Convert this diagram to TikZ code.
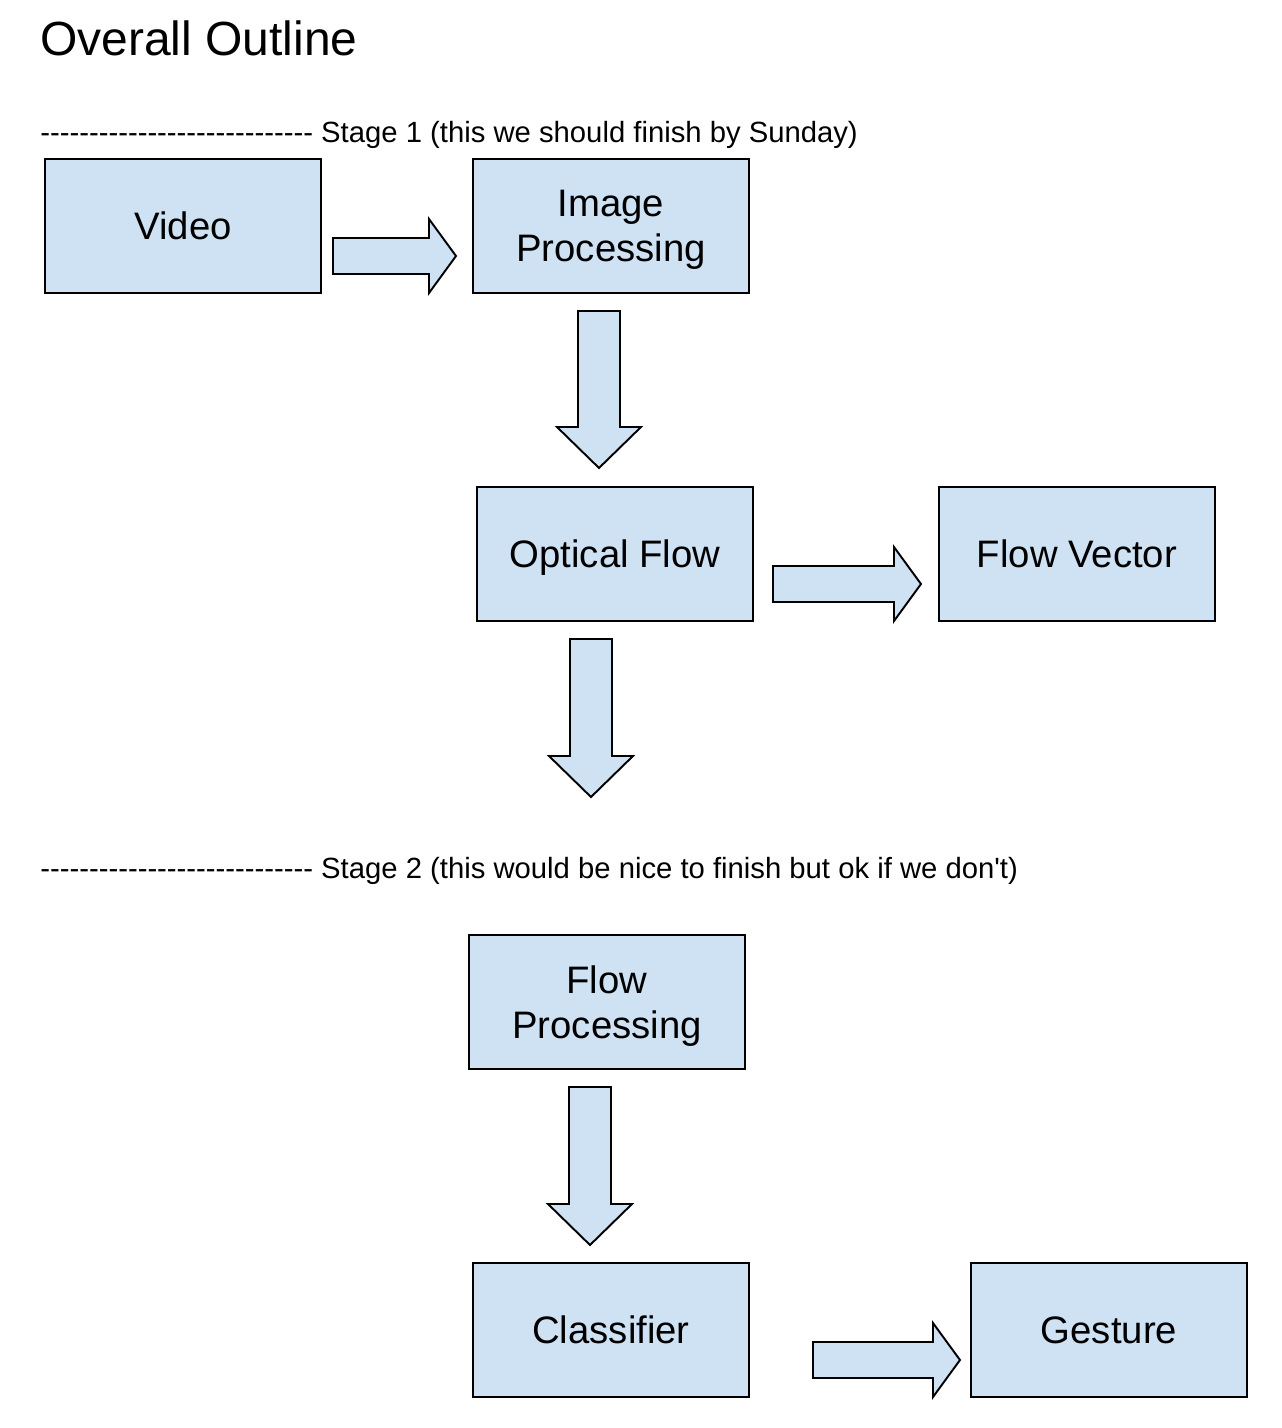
\documentclass[tikz,border=0pt]{standalone}
\usepackage{fontspec}
\setmainfont{Liberation Sans}[Ligatures=TeXOff]
\usepackage{xcolor}
\usetikzlibrary{positioning}
\definecolor{boxblue}{HTML}{CFE2F3}

% block arrows: start x, tip x, centre y  /  centre x, top y, tip y
\newcommand{\rightblock}[3]{\draw[block] (#1,#3-18) -- (#2-27,#3-18) -- (#2-27,#3-37) -- (#2,#3) -- (#2-27,#3+37) -- (#2-27,#3+18) -- (#1,#3+18) -- cycle;}
\newcommand{\downblock}[3]{\draw[block] (#1-21,#2) -- (#1+21,#2) -- (#1+21,#3-41) -- (#1+42,#3-41) -- (#1,#3) -- (#1-42,#3-41) -- (#1-21,#3-41) -- cycle;}

\begin{document}
\begin{tikzpicture}[x=0.02cm, y=-0.02cm, box/.style={draw, fill=boxblue, line width=1.1pt, minimum width=5.52cm, minimum height=2.68cm, align=center, inner sep=0, outer sep=0, text depth=0pt, font=\fontsize{21.8}{25.5}\selectfont}, block/.style={draw, fill=boxblue, line width=1.1pt, line join=miter}, label text/.style={anchor=base west, inner sep=0}]
\useasboundingbox (0,0) rectangle (1282,1428);
\node[label text, font=\fontsize{27.3}{32}\selectfont] (title) at (40,55) {Overall Outline};
\node[label text, font=\fontsize{16.65}{20}\selectfont] (stage1) at (40,142) {---------------------------- Stage 1 (this we should finish by Sunday)};
\node[label text, font=\fontsize{16.65}{20}\selectfont] (stage2) at (40,878) {---------------------------- Stage 2 (this would be nice to finish but ok if we don't)};
% stage 1
\node[box] (video) at (183,226) {Video};
\node[box] (image) at (611,226) {Image\\Processing};
\node[box] (optical) at (615,554) {Optical Flow};
\node[box] (vector) at (1077,554) {Flow Vector};
\rightblock{333}{456}{256}
\downblock{599}{311}{468}
\rightblock{773}{921}{584}
\downblock{591}{639}{797}
% stage 2
\node[box] (flowproc) at (607,1002) {Flow\\Processing};
\node[box] (classifier) at (611,1330) {Classifier};
\node[box] (gesture) at (1109,1330) {Gesture};
\downblock{590}{1087}{1245}
\rightblock{813}{960}{1360}
\end{tikzpicture}
\end{document}
